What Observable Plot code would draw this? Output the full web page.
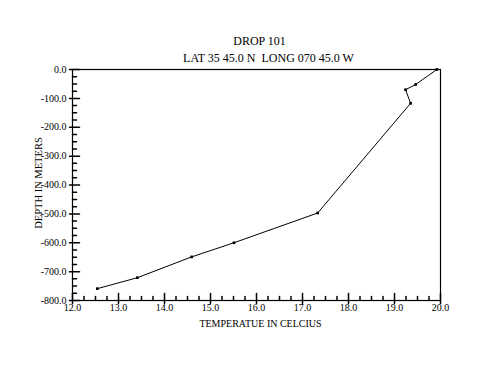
<!DOCTYPE html>
<html>
<head>
<meta charset="utf-8">
<script src="https://cdn.jsdelivr.net/npm/d3@7"></script>
<script src="https://cdn.jsdelivr.net/npm/@observablehq/plot@0.6"></script>
<style>
  html, body { margin: 0; padding: 0; background: #fff; }
  svg { display: block; }
</style>
</head>
<body>
<div id="chart"></div>
<script>
const temps  = [19.92, 19.46, 19.24, 19.35, 17.33, 15.51, 14.59, 13.41, 12.54];
const depths = [0, -52, -70, -117, -497, -600, -649, -721, -759];

const xMajor = [12, 13, 14, 15, 16, 17, 18, 19, 20];
const xMinor = d3.range(12, 20.001, 0.25).filter(v => Math.abs(v - Math.round(v)) > 1e-6);
const yMajor = [0, -100, -200, -300, -400, -500, -600, -700, -800];
const yMinor = d3.range(-800, 0.001, 25).filter(v => v % 100 !== 0);

const title = "DROP 101";
const subtitle = "LAT 35 45.0 N  LONG 070 45.0 W";
const xLabel = "TEMPERATUE IN CELCIUS";
const yLabel = "DEPTH IN METERS";

const data = temps.map((t, i) => ({t, d: depths[i]}));
const tickShape = {draw(ctx, l) { ctx.moveTo(0, 0); ctx.lineTo(0, -l); }};
const font = "Liberation Serif, Times New Roman, serif";

const chart = Plot.plot({
  width: 500,
  height: 385,
  marginLeft: 72,
  marginRight: 60,
  marginTop: 69,
  marginBottom: 85,
  style: {fontFamily: font, fontSize: "10px", color: "#000", background: "#fff"},
  x: {domain: [12, 20]},
  y: {domain: [-800, 0]},
  marks: [
    Plot.frame({stroke: "#000", strokeWidth: 1.2}),
    Plot.vector(xMajor, {x: d => d, frameAnchor: "bottom", length: 10, rotate: 0, anchor: "start", dy: 3, shape: tickShape, stroke: "#000"}),
    Plot.vector(xMinor, {x: d => d, frameAnchor: "bottom", length: 4, rotate: 0, anchor: "start", shape: tickShape, stroke: "#000"}),
    Plot.vector(yMajor, {y: d => d, frameAnchor: "left", length: 10, rotate: 90, anchor: "start", dx: -3, shape: tickShape, stroke: "#000"}),
    Plot.vector(yMinor, {y: d => d, frameAnchor: "left", length: 4, rotate: 90, anchor: "start", shape: tickShape, stroke: "#000"}),
    Plot.axisX({ticks: xMajor, tickSize: 0, tickPadding: 3, tickFormat: d => d.toFixed(1), label: null, fontSize: 10}),
    Plot.axisY({ticks: yMajor, tickSize: 0, tickPadding: 6, tickFormat: d => d.toFixed(1), label: null, fontSize: 10}),
    Plot.line(data, {x: "t", y: "d", stroke: "#000", strokeWidth: 1}),
    Plot.dot(data, {x: "t", y: "d", symbol: "square", r: 1.5, fill: "#000", stroke: null}),
    Plot.text([title], {frameAnchor: "top", lineAnchor: "middle", dy: -28, dx: 3, fontSize: 12, fill: "#000"}),
    Plot.text([subtitle], {frameAnchor: "top", lineAnchor: "middle", dy: -11, dx: 12, fontSize: 12, fill: "#000"}),
    Plot.text([xLabel], {frameAnchor: "bottom", lineAnchor: "middle", dy: 23, dx: 4, fontSize: 10, fill: "#000"}),
    Plot.text([yLabel], {frameAnchor: "left", textAnchor: "middle", lineAnchor: "middle", dx: -34, dy: -2, rotate: -90, fontSize: 10.5, fill: "#000"})
  ]
});
document.getElementById("chart").appendChild(chart);
</script>
</body>
</html>
